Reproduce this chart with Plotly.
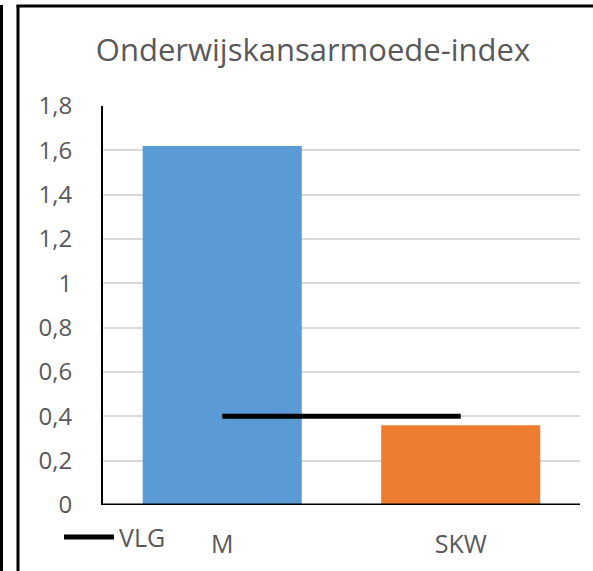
import plotly.graph_objects as go

categories = ["M", "SKW"]
index_values = [1.62, 0.36]
bar_colors = ["#5B9BD5", "#ED7D31"]
vlg_values = [0.40, 0.40]
tick_vals = [0, 0.2, 0.4, 0.6, 0.8, 1.0, 1.2, 1.4, 1.6, 1.8]
tick_text = ["0", "0,2", "0,4", "0,6", "0,8", "1", "1,2", "1,4", "1,6", "1,8"]

W, H = 593, 571
L, R, T, B = 103, 13, 106, 66
pw, ph = W - L - R, H - T - B

def px(x):
    return (x - L) / pw

def py(y):
    return (H - B - y) / ph

FONT = "Open Sans"
GREY = "#595959"

fig = go.Figure()
fig.add_trace(go.Bar(x=categories, y=index_values, marker=dict(color=bar_colors, line=dict(width=0)),
                     width=0.667, showlegend=False, name="Index"))
fig.add_trace(go.Scatter(x=categories, y=vlg_values, mode="lines", name="VLG", showlegend=False,
                         line=dict(color="black", width=5)))

shapes = [
    dict(type="line", xref="paper", yref="paper", x0=px(1.5), x1=px(1.5), y0=py(5), y1=py(571),
         line=dict(color="black", width=3)),
    dict(type="line", xref="paper", yref="paper", x0=px(18), x1=px(18), y0=py(5), y1=py(571),
         line=dict(color="black", width=3)),
    dict(type="line", xref="paper", yref="paper", x0=px(16.5), x1=px(593), y0=py(6), y1=py(6),
         line=dict(color="black", width=3)),
    # legend symbol for VLG
    dict(type="line", xref="paper", yref="paper", x0=px(64), x1=px(114), y0=py(537), y1=py(537),
         line=dict(color="black", width=5)),
    dict(type="line", xref="paper", yref="y", x0=0, x1=1, y0=0, y1=0,
         line=dict(color="black", width=3), layer="above"),
]

fig.update_layout(
    width=W, height=H,
    margin=dict(l=L, r=R, t=T, b=B),
    paper_bgcolor="white", plot_bgcolor="white",
    font=dict(family=FONT, color=GREY, size=24),
    title=dict(text="Onderwijskansarmoede-index", xref="container", x=313 / W, xanchor="center",
               yref="container", y=1 - 50 / H, yanchor="middle",
               font=dict(size=31, color=GREY, family=FONT)),
    bargap=0.333,
    xaxis=dict(showgrid=False, showline=False, ticks="", tickfont=dict(size=25, color=GREY),
               ticklabelstandoff=22, range=[-0.5, 1.5]),
    yaxis=dict(range=[0, 1.8], tickvals=tick_vals, ticktext=tick_text, showgrid=True,
               gridcolor="#D9D9D9", gridwidth=2, zeroline=False, showline=True, linecolor="black",
               linewidth=2, ticks="", tickfont=dict(size=24, color=GREY), ticklabelstandoff=24),
    showlegend=False,
    annotations=[
        dict(text="VLG", xref="paper", yref="paper", x=px(117), y=py(537), xanchor="left",
             yanchor="middle", showarrow=False, font=dict(size=25, color=GREY, family=FONT)),
    ],
    shapes=shapes,
)

fig.write_html(
    "out.html",
    config={"displayModeBar": False},
    post_script="document.body.style.margin='0';document.body.style.overflow='hidden';"
                "document.documentElement.style.overflow='hidden';",
)
